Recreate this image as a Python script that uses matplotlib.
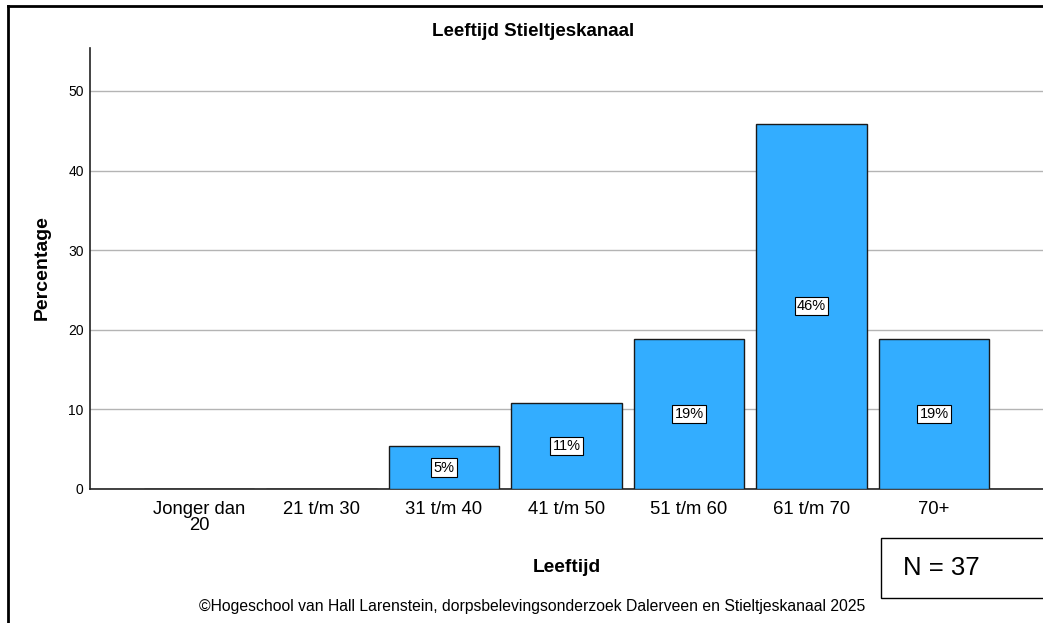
import matplotlib
matplotlib.use("Agg")
import matplotlib.pyplot as plt
from matplotlib.patches import Rectangle
from matplotlib.lines import Line2D

categories = ["Jonger dan\n20", "21 t/m 30", "31 t/m 40", "41 t/m 50", "51 t/m 60", "61 t/m 70", "70+"]
percentages = [0.0, 0.0, 5.4, 10.8, 18.9, 45.9, 18.9]
yticks = [0, 10, 20, 30, 40, 50]
n_total = 37

plt.rcParams['font.family'] = ['Liberation Sans', 'DejaVu Sans']

fig = plt.figure(figsize=(10.43, 6.23), dpi=100)
ax = fig.add_axes([90/1043, 1-489/623, 1-90/1043, (489-48)/623])

x = list(range(len(categories)))
bars = ax.bar(x, percentages, width=0.9, color="#33adff", edgecolor="#1a1a1a", linewidth=1.0, zorder=3)
for xi, v in zip(x, percentages):
    if v > 0:
        ax.text(xi, v/2, f"{v:.0f}%", ha="center", va="center", fontsize=10.5, zorder=4,
                bbox=dict(boxstyle="square,pad=0.15", facecolor="white", edgecolor="black", linewidth=0.8))

ax.set_xlim(-0.89, 6.89)
ax.set_ylim(0, 55.4)
ax.set_yticks(yticks)
ax.set_yticklabels([str(t) for t in yticks], fontsize=10)
ax.set_xticks(x)
ax.set_xticklabels(categories, fontsize=13.3, linespacing=0.9)
ax.tick_params(axis="both", length=0)
ax.tick_params(axis="y", pad=4.5)
ax.tick_params(axis="x", pad=9)
ax.yaxis.grid(True, color="#b4b4b4", linewidth=1.0, zorder=0)
ax.set_axisbelow(True)
for s in ["top", "right"]:
    ax.spines[s].set_visible(False)
for s in ["left", "bottom"]:
    ax.spines[s].set_color("#222222")
    ax.spines[s].set_linewidth(1.2)

fig.text(533/1043, 1-32/623, "Leeftijd Stieltjeskanaal", ha="center", va="center", fontsize=13.5, fontweight="bold")
fig.text(42/1043, 1-268/623, "Percentage", ha="center", va="center", rotation=90, fontsize=14, fontweight="bold")
fig.text(567/1043, 1-568/623, "Leeftijd", ha="center", va="center", fontsize=13.8, fontweight="bold")
fig.text(532/1043, 1-606/623,
         "\u00a9Hogeschool van Hall Larenstein, dorpsbelevingsonderzoek Dalerveen en Stieltjeskanaal 2025",
         ha="center", va="center", fontsize=11.3)

# outer frame (left and top)
fig.add_artist(Line2D([8/1043, 8/1043], [0, 1-6/623], transform=fig.transFigure, color="black", linewidth=2))
fig.add_artist(Line2D([8/1043, 1], [1-6/623, 1-6/623], transform=fig.transFigure, color="black", linewidth=2))

# N box
fig.add_artist(Rectangle((881/1043, 1-598/623), (1050-881)/1043, 60/623, transform=fig.transFigure,
                         facecolor="white", edgecolor="black", linewidth=1.0))
fig.text(903/1043, 1-568/623, f"N = {n_total}", ha="left", va="center", fontsize=18.5)

fig.savefig("out.png", dpi=100)
